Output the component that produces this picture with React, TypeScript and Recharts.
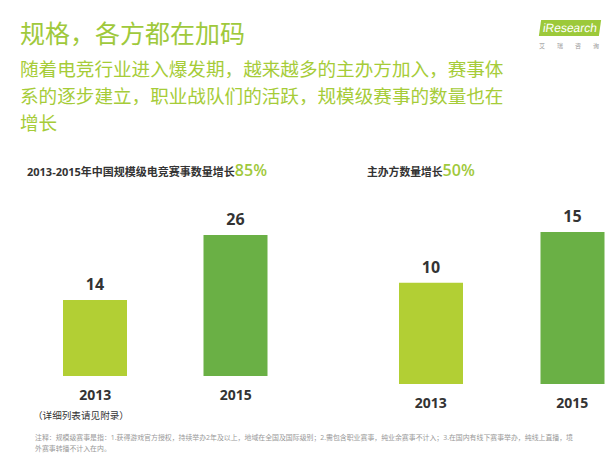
import { Bar, BarChart, Cell, LabelList, XAxis, YAxis } from "recharts";

// Values (iResearch, 2013 vs 2015).
const years = ["2013", "2015"];
const eventCounts = [14, 26];
const organizerCounts = [10, 15];
const barColors = ["#b2cf34", "#6ab045"];

const title = "规格，各方都在加码";
const subtitleLines = [
  "随着电竞行业进入爆发期，越来越多的主办方加入，赛事体",
  "系的逐步建立，职业战队们的活跃，规模级赛事的数量也在",
  "增长",
];
const leftTitle = "2013-2015年中国规模级电竞赛事数量增长";
const leftGrowth = "85%";
const rightTitle = "主办方数量增长";
const rightGrowth = "50%";
const appendixNote = "（详细列表请见附录）";
const footnoteLines = [
  "注释：规模级赛事是指：1.获得游戏官方授权，持续举办2年及以上，地域在全国及国际级别；2.需包含职业赛事，纯业余赛事不计入；3.在国内有线下赛事举办，纯线上直播，境",
  "外赛事转播不计入在内。",
];

const font = '"Open Sans", "Noto Sans CJK SC", sans-serif';
const green = "#9fc93c";

function YearBars({
  values,
  width,
  height,
  margin,
  max,
}: {
  values: number[];
  width: number;
  height: number;
  margin: { top: number; right: number; bottom: number; left: number };
  max: number;
}) {
  const data = years.map((year, i) => ({ year, value: values[i] }));
  return (
    <BarChart width={width} height={height} data={data} margin={margin} accessibilityLayer={false}>
      <XAxis
        dataKey="year"
        axisLine={false}
        tickLine={false}
        height={30}
        tickMargin={8}
        tick={{ fontSize: 14, fontWeight: 700, fill: "#333", fontFamily: font }}
      />
      <YAxis hide domain={[0, max]} />
      <Bar dataKey="value" barSize={64} isAnimationActive={false}>
        {data.map((d, i) => (
          <Cell key={d.year} fill={barColors[i]} />
        ))}
        <LabelList
          dataKey="value"
          position="top"
          offset={10}
          style={{ fontSize: 16, fontWeight: 700, fill: "#333", fontFamily: font }}
        />
      </Bar>
    </BarChart>
  );
}

export default function App() {
  return (
    <div
      style={{
        position: "absolute",
        left: 0,
        top: 0,
        width: 615,
        height: 456,
        overflow: "hidden",
        background: "#fff",
        fontFamily: font,
      }}
    >
      <div style={{ position: "absolute", left: 20, top: 15, fontSize: 25, color: green, lineHeight: "36px" }}>
        {title}
      </div>
      <div style={{ position: "absolute", left: 20, top: 55, fontSize: 18.6, color: "#a6cc38", lineHeight: "27px" }}>
        {subtitleLines.map((l) => (
          <div key={l}>{l}</div>
        ))}
      </div>

      {/* logo */}
      <div
        style={{
          position: "absolute",
          left: 540,
          top: 20,
          width: 60,
          height: 16,
          background: "#9cc93a",
          transform: "skewX(-8deg)",
          color: "#fff",
          fontSize: 12,
          lineHeight: "16px",
          textAlign: "center",
          fontFamily: '"Liberation Sans", sans-serif',
        }}
      >
        iResearch
      </div>
      <div style={{ position: "absolute", left: 539, top: 41, fontSize: 6, color: "#999", letterSpacing: 12, whiteSpace: "nowrap" }}>
        艾瑞咨询
      </div>

      <div style={{ position: "absolute", left: 27, top: 159, fontSize: 11, fontWeight: 700, color: "#333", whiteSpace: "nowrap" }}>
        {leftTitle}
        <span style={{ fontSize: 16, color: green, fontWeight: 600 }}>{leftGrowth}</span>
      </div>
      <div style={{ position: "absolute", left: 367, top: 159, fontSize: 10.8, fontWeight: 700, color: "#333", whiteSpace: "nowrap" }}>
        {rightTitle}
        <span style={{ fontSize: 16, color: green, fontWeight: 600 }}>{rightGrowth}</span>
      </div>

      <div style={{ position: "absolute", left: 0, top: 200 }}>
        <YearBars values={eventCounts} width={320} height={230} max={26} margin={{ top: 35, right: 14, bottom: 24, left: 25 }} />
      </div>
      <div style={{ position: "absolute", left: 340, top: 200 }}>
        <YearBars values={organizerCounts} width={320} height={240} max={15} margin={{ top: 32, right: 17, bottom: 26, left: 20 }} />
      </div>

      <div style={{ position: "absolute", left: 33, top: 408, fontSize: 9.6, color: "#333", whiteSpace: "nowrap" }}>
        {appendixNote}
      </div>
      <div style={{ position: "absolute", left: 35, top: 432, fontSize: 6.9, color: "#999", lineHeight: "11px", whiteSpace: "nowrap" }}>
        {footnoteLines.map((l) => (
          <div key={l}>{l}</div>
        ))}
      </div>
    </div>
  );
}
